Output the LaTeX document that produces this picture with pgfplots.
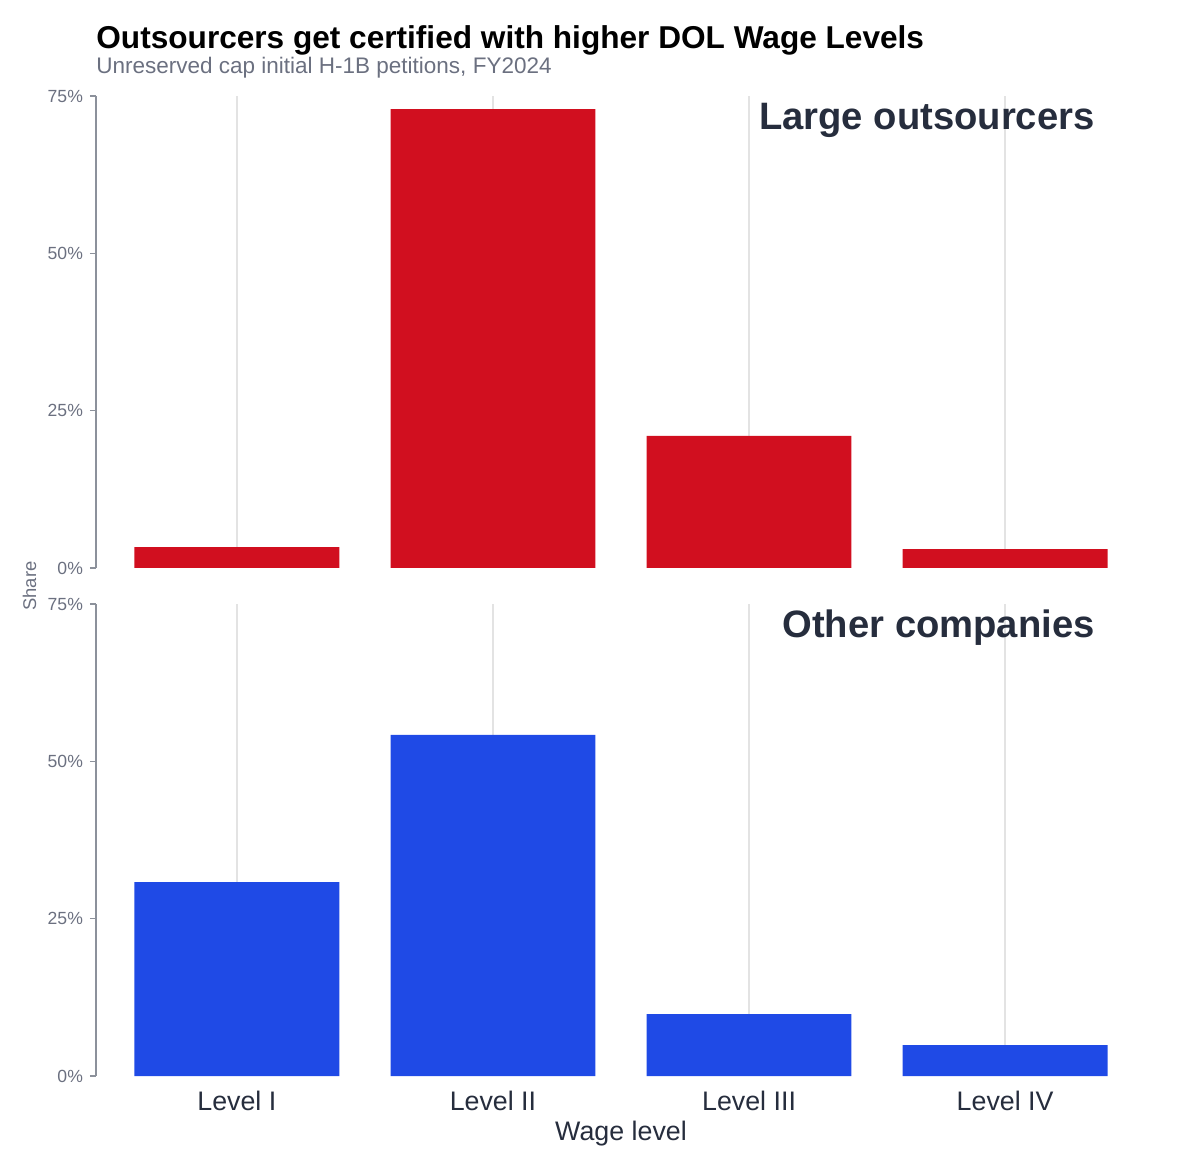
\documentclass[border=0pt]{standalone}
\usepackage{pgfplots}
\pgfplotsset{compat=1.18}
\usepackage{fontspec}
\setmainfont{Liberation Sans}
\definecolor{barred}{HTML}{D10F1F}
\definecolor{barblue}{HTML}{1F4AE6}
\definecolor{panel}{HTML}{262D3D}
\definecolor{axgray}{HTML}{8C919B}
\definecolor{tickgray}{HTML}{6B7080}
\definecolor{gridgray}{HTML}{E3E3E3}
\pgfplotsset{
  panel/.style={
    at={(48pt,#1)}, anchor=south west,
    scale only axis, width=525pt, height=236pt,
    xmin=0.45, xmax=4.55, ymin=0, ymax=75,
    axis lines=left,
    axis line style={-, axgray, line width=0.75pt},
    x axis line style={draw=none},
    ytick={0,25,50,75},
    yticklabel={\pgfmathprintnumber{\tick}\%},
    yticklabel style={font=\fontsize{8.8}{10}\selectfont, text=tickgray},
    tick align=outside, major tick length=3pt,
    ytick style={axgray, line width=0.75pt},
    xtick={1,2,3,4}, xtick style={draw=none},
    xmajorgrids, grid style={gridgray, line width=1.1pt},
    ybar, bar width=0.8,
    /pgf/number format/assume math mode=true,
  }
}
\begin{document}
\begin{tikzpicture}
\useasboundingbox (0,0) rectangle (600pt,584pt);
\begin{axis}[panel=300pt, xticklabels={}]
\addplot[fill=barred, draw=none] coordinates {(1,3.3) (2,72.9) (3,21.0) (4,3.0)};
\end{axis}
\begin{axis}[panel=46pt,
  xticklabels={Level I, Level II, Level III, Level IV},
  xticklabel style={font=\fontsize{13.4}{15}\selectfont, text=panel, anchor=base, yshift=-14pt}]
\addplot[fill=barblue, draw=none] coordinates {(1,30.8) (2,54.2) (3,9.85) (4,4.9)};
\end{axis}
\node[anchor=base west, font=\bfseries\fontsize{15.8}{18}\selectfont, text=black, inner sep=0] at (48pt,559.5pt) {Outsourcers get certified with higher DOL Wage Levels};
\node[anchor=base west, font=\fontsize{11.25}{13}\selectfont, text=tickgray, inner sep=0] at (48pt,547pt) {Unreserved cap initial H-1B petitions, FY2024};
\node[anchor=base east, font=\bfseries\fontsize{19.1}{22}\selectfont, text=panel, inner sep=0] at (547.5pt,519pt) {Large outsourcers};
\node[anchor=base east, font=\bfseries\fontsize{19.1}{22}\selectfont, text=panel, inner sep=0] at (547.5pt,265pt) {Other companies};
\node[anchor=base, font=\fontsize{13.4}{15}\selectfont, text=panel, inner sep=0] at (310.5pt,14pt) {Wage level};
\node[rotate=90, font=\fontsize{9.2}{11}\selectfont, text=tickgray, inner sep=0] at (14.75pt,291pt) {Share};
\end{tikzpicture}
\end{document}
